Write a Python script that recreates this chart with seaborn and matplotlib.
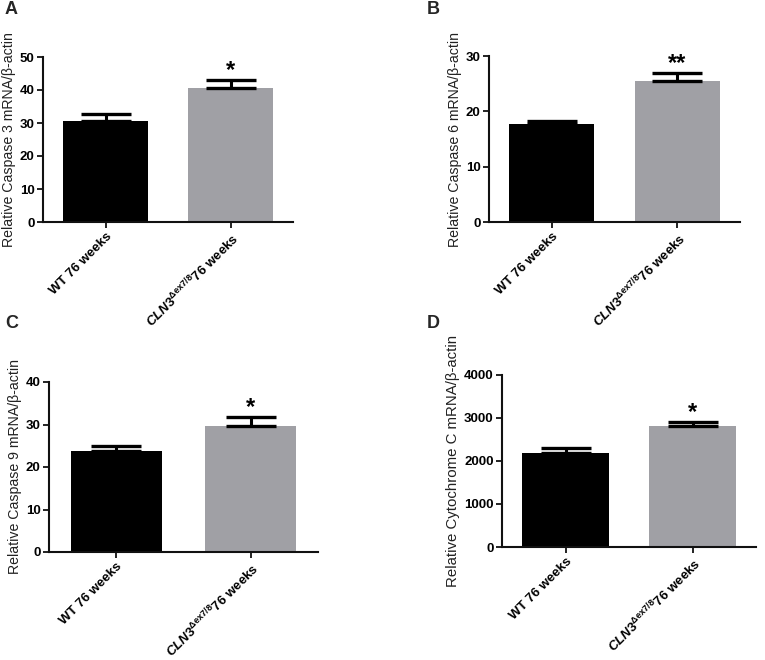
import matplotlib
matplotlib.use("Agg")
import matplotlib.pyplot as plt
import seaborn as sns
import pandas as pd

sns.set_theme(style="ticks")
plt.rcParams['font.family'] = ['Liberation Sans', 'DejaVu Sans']
plt.rcParams['mathtext.fontset'] = 'custom'
plt.rcParams['mathtext.rm'] = 'Liberation Sans:bold'
plt.rcParams['mathtext.it'] = 'Liberation Sans:italic:bold'
plt.rcParams['mathtext.bf'] = 'Liberation Sans:bold'

categories = ["WT 76 weeks", r"$\mathit{CLN3}^{\mathrm{\Delta ex7/8}}$76 weeks"]
panel_letters = ["A", "B", "C", "D"]
ylabels = ["Relative Caspase 3 mRNA/β-actin",
           "Relative Caspase 6 mRNA/β-actin",
           "Relative Caspase 9 mRNA/β-actin",
           "Relative Cytochrome C mRNA/β-actin"]
means_A = [30.6, 40.6]
errs_A = [2.1, 2.4]
means_B = [17.7, 25.5]
errs_B = [0.55, 1.4]
means_C = [23.8, 29.6]
errs_C = [1.1, 2.2]
means_D = [2186, 2810]
errs_D = [114, 95]
stars = ["*", "**", "*", "*"]
ymaxes = [50, 30, 40, 4000]
ysteps = [10, 10, 10, 1000]
colors = ["#000000", "#a0a0a5"]

means = [means_A, means_B, means_C, means_D]
errs = [errs_A, errs_B, errs_C, errs_D]

fig = plt.figure(figsize=(7.65, 6.6), dpi=100)
W, H = 765, 660
# pixel boxes: left, right, top, bottom
boxes = [(43, 293, 57, 222), (489, 740, 56, 222), (49, 318, 382, 552), (502, 756, 375, 547)]
letter_pos = [(5, 10), (427, 10), (5, 323), (427, 323)]
label_sizes = [10.2, 10.2, 10.2, 10.8]

for i in range(4):
    l, r, t, b = boxes[i]
    ax = fig.add_axes([l / W, 1 - b / H, (r - l) / W, (b - t) / H])
    df = pd.DataFrame({"group": categories, "value": means[i]})
    sns.barplot(data=df, x="group", y="value", hue="group", palette=colors,
                width=0.68, errorbar=None, legend=False, ax=ax,
                saturation=1, edgecolor="none")
    ax.errorbar([0, 1], means[i], yerr=[[0, 0], errs[i]], fmt="none",
                ecolor="black", elinewidth=2.2, capsize=18, capthick=2.4)
    top = means[i][1] + errs[i][1]
    ax.text(1, top - ymaxes[i] * 0.01, stars[i], ha="center", va="bottom",
            fontsize=17, fontweight="bold", color="black")
    ax.set_xlim(-0.5, 1.5)
    ax.set_ylim(0, ymaxes[i])
    ax.set_yticks(range(0, ymaxes[i] + 1, ysteps[i]))
    ax.set_xlabel("")
    ax.set_ylabel(ylabels[i], fontsize=label_sizes[i], color="#222222", labelpad=3)
    sns.despine(ax=ax)
    for sp in ["left", "bottom"]:
        ax.spines[sp].set_linewidth(1.5)
        ax.spines[sp].set_color("#111111")
    ax.tick_params(axis="both", direction="out", length=4, width=1.3,
                   color="#111111", labelsize=9.5, labelcolor="black", pad=2)
    for lab in ax.get_yticklabels():
        lab.set_fontweight("bold")
    ax.set_xticks([0, 1])
    ax.set_xticklabels(categories, rotation=45, ha="right",
                       rotation_mode="anchor", fontweight="bold", fontsize=9.5)
    lx, ly = letter_pos[i]
    fig.text(lx / W, 1 - ly / H, panel_letters[i], fontsize=13,
             fontweight="bold", ha="left", va="center")

fig.savefig("out.png", dpi=100)
